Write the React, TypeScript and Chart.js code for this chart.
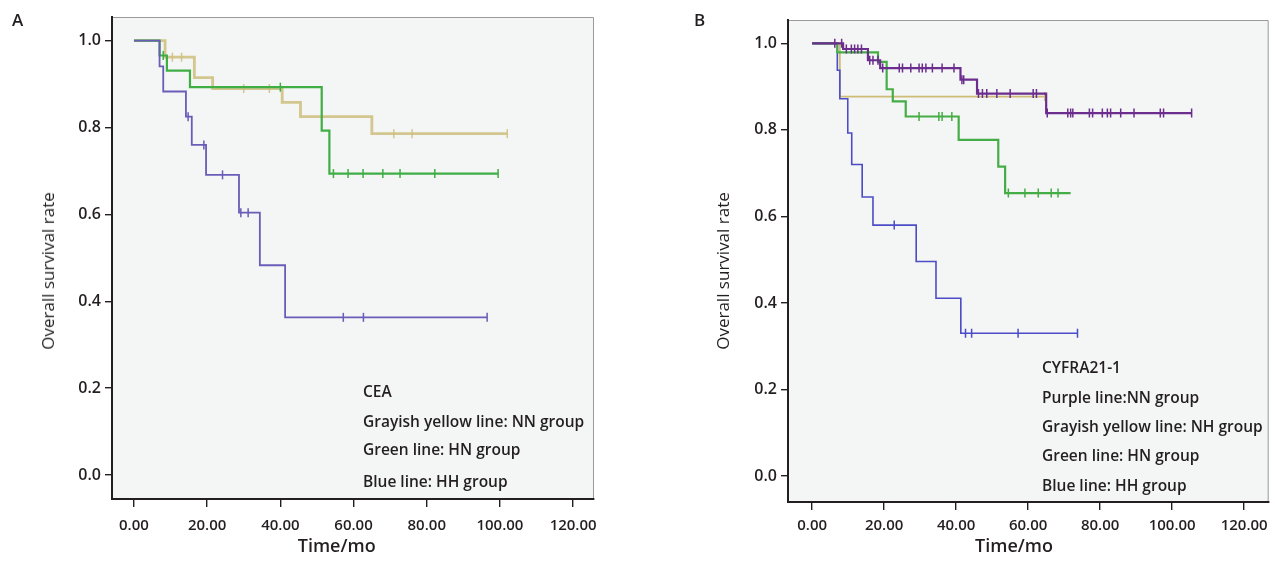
import React, { useEffect, useRef } from "react";
import { Chart, registerables } from "chart.js";

Chart.register(...registerables);

// ---------------- data ----------------
const X_TICKS = [0, 20, 40, 60, 80, 100, 120];
const Y_TICKS = [0, 0.2, 0.4, 0.6, 0.8, 1.0];

// Panel A — CEA
const A_NN_TIMES = [0, 8.5, 16.5, 21.5, 40.5, 45.5, 65];
const A_NN_SURV = [1, 0.962, 0.915, 0.89, 0.858, 0.825, 0.786];
const A_NN_END = 102;
const A_NN_CENSOR = [10.5, 13, 30, 37, 71, 76, 102];

const A_HN_TIMES = [0, 7, 9, 15.3, 51.3, 53.4];
const A_HN_SURV = [1, 0.966, 0.931, 0.893, 0.793, 0.694];
const A_HN_END = 99.5;
const A_HN_CENSOR = [8, 40, 54.5, 58.5, 62.6, 68, 72.7, 82.2, 99.5];

const A_HH_TIMES = [0, 7, 8, 14.2, 15.8, 19.7, 28.7, 34.4, 41.3];
const A_HH_SURV = [1, 0.941, 0.883, 0.825, 0.76, 0.691, 0.604, 0.483, 0.363];
const A_HH_END = 96.5;
const A_HH_CENSOR = [14.8, 19.1, 24.2, 29.2, 31.2, 57.2, 62.7, 96.5];

// Panel B — CYFRA21-1
const B_NN_TIMES = [0, 8.6, 15.5, 18.9, 41.2, 45.8, 65];
const B_NN_SURV = [1, 0.987, 0.961, 0.943, 0.916, 0.884, 0.839];
const B_NN_END = 105.4;
const B_NN_CENSOR = [
  6.3, 8.2, 9.5, 10.9, 11.8, 12.7, 13.7, 16, 16.9, 18.3, 19.6, 24.2, 25.1, 27.4,
  29.7, 30.6, 31.6, 33.4, 36.1, 39.4, 41.6, 42.1, 46.2, 47.3, 48.5, 51.3, 55,
  61.4, 62.3, 65.3, 71, 71.8, 72.4, 77, 77.9, 80.6, 82, 82.9, 85.7, 89.4, 96.7,
  97.6, 105.4,
];

const B_NH_TIMES = [0, 7.7];
const B_NH_SURV = [1, 0.877];
const B_NH_END = 64.6;
const B_NH_CENSOR = [64.6];

const B_HN_TIMES = [0, 7, 18.3, 20.7, 22.4, 26, 40.7, 51.7, 53.6];
const B_HN_SURV = [1, 0.979, 0.957, 0.894, 0.866, 0.831, 0.777, 0.715, 0.654];
const B_HN_END = 71.8;
const B_HN_CENSOR = [29.7, 35.2, 36.1, 38.8, 54.5, 59.1, 62.8, 66.4, 68.3];

const B_HH_TIMES = [0, 7, 7.7, 9.9, 11, 13.9, 16.9, 28.9, 34.4, 41.3];
const B_HH_SURV = [1, 0.938, 0.872, 0.793, 0.72, 0.645, 0.58, 0.496, 0.411, 0.33];
const B_HH_END = 73.7;
const B_HH_CENSOR = [22.8, 42.6, 44.3, 57.2, 73.7];

// ---------------- styling ----------------
const FONT = "'Open Sans', 'Noto Sans', 'DejaVu Sans', sans-serif";
const INK = "#231f20";

type Series = {
  label: string;
  times: number[];
  surv: number[];
  end: number;
  censor: number[];
  color: string;
  width: number;
};

const SERIES_A: Series[] = [
  { label: "HH", times: A_HH_TIMES, surv: A_HH_SURV, end: A_HH_END, censor: A_HH_CENSOR, color: "#6a5cb8", width: 1.8 },
  { label: "HN", times: A_HN_TIMES, surv: A_HN_SURV, end: A_HN_END, censor: A_HN_CENSOR, color: "#3fae45", width: 2.2 },
  { label: "NN", times: A_NN_TIMES, surv: A_NN_SURV, end: A_NN_END, censor: A_NN_CENSOR, color: "rgba(205,190,125,0.85)", width: 2.8 },
];

const SERIES_B: Series[] = [
  { label: "NN", times: B_NN_TIMES, surv: B_NN_SURV, end: B_NN_END, censor: B_NN_CENSOR, color: "#6b2d8e", width: 2.2 },
  { label: "HN", times: B_HN_TIMES, surv: B_HN_SURV, end: B_HN_END, censor: B_HN_CENSOR, color: "#45ad45", width: 2.2 },
  { label: "HH", times: B_HH_TIMES, surv: B_HH_SURV, end: B_HH_END, censor: B_HH_CENSOR, color: "#4c4cc8", width: 1.6 },
  { label: "NH", times: B_NH_TIMES, surv: B_NH_SURV, end: B_NH_END, censor: B_NH_CENSOR, color: "#cdbd76", width: 1.8 },
];

type Panel = {
  left: number;
  width: number;
  height: number;
  area: { left: number; top: number; right: number; bottom: number };
  xMin: number;
  xMax: number;
  yMin: number;
  yMax: number;
  xTickPad: number;
};

const PANEL_A: Panel = {
  left: 0, width: 650, height: 563,
  area: { left: 112, top: 17, right: 594, bottom: 499 },
  xMin: -6, xMax: 125.7, yMin: -0.0553, yMax: 1.0546, xTickPad: 10,
};
const PANEL_B: Panel = {
  left: 660, width: 615, height: 563,
  area: { left: 128, top: 20, right: 613, bottom: 502 },
  xMin: -6.7, xMax: 126.8, yMin: -0.06, yMax: 1.054, xTickPad: 7,
};

function survivalAt(times: number[], surv: number[], t: number) {
  let s = surv[0];
  for (let i = 0; i < times.length; i++) if (times[i] <= t) s = surv[i];
  return s;
}

function buildDatasets(series: Series[]) {
  const ds: any[] = [];
  series.forEach((s) => {
    ds.push({
      label: s.label + " censored",
      data: s.censor.map((t) => ({ x: t, y: survivalAt(s.times, s.surv, t) })),
      showLine: false,
      pointStyle: "line",
      pointRotation: 90,
      pointRadius: 4.5,
      pointBorderWidth: 1.5,
      borderColor: s.color,
      backgroundColor: s.color,
    });
    ds.push({
      label: s.label,
      data: [
        ...s.times.map((t, i) => ({ x: t, y: s.surv[i] })),
        { x: s.end, y: s.surv[s.surv.length - 1] },
      ],
      showLine: true,
      stepped: "before",
      pointRadius: 0,
      borderColor: s.color,
      borderWidth: s.width,
      fill: false,
    });
  });
  return ds;
}

function makeChart(canvas: HTMLCanvasElement, p: Panel, series: Series[]) {
  const areaPlugin = {
    id: "plotArea",
    beforeDraw(chart: any) {
      const { ctx, chartArea: a } = chart;
      ctx.save();
      ctx.fillStyle = "#f4f5f5";
      ctx.fillRect(a.left, a.top, a.right - a.left, a.bottom - a.top);
      ctx.strokeStyle = "#9a9a9a";
      ctx.lineWidth = 1;
      ctx.beginPath();
      ctx.moveTo(a.left, a.top + 0.5);
      ctx.lineTo(a.right - 0.5, a.top + 0.5);
      ctx.lineTo(a.right - 0.5, a.bottom);
      ctx.stroke();
      ctx.restore();
    },
  };
  return new Chart(canvas, {
    type: "scatter",
    data: { datasets: buildDatasets(series) },
    options: {
      animation: false,
      responsive: false,
      maintainAspectRatio: false,
      events: [],
      layout: { padding: { left: 0, top: p.area.top, right: p.width - p.area.right, bottom: 0 } },
      plugins: { legend: { display: false }, tooltip: { enabled: false }, title: { display: false } },
      scales: {
        x: {
          type: "linear",
          min: p.xMin,
          max: p.xMax,
          afterBuildTicks: (scale: any) => {
            scale.ticks = X_TICKS.map((v) => ({ value: v }));
          },
          afterFit: (scale: any) => {
            scale.height = p.height - p.area.bottom;
          },
          ticks: {
            callback: (v: any) => Number(v).toFixed(2),
            font: { family: FONT, size: 15, weight: "600" },
            color: INK,
            padding: p.xTickPad,
            maxRotation: 0,
            autoSkip: false,
          },
          grid: { drawOnChartArea: false, drawTicks: true, tickLength: 8, color: INK, lineWidth: 1.4 },
          border: { display: true, color: INK, width: 2 },
        },
        y: {
          type: "linear",
          min: p.yMin,
          max: p.yMax,
          afterBuildTicks: (scale: any) => {
            scale.ticks = Y_TICKS.map((v) => ({ value: v }));
          },
          afterFit: (scale: any) => {
            scale.width = p.area.left;
          },
          ticks: {
            callback: (v: any) => Number(v).toFixed(1),
            font: { family: FONT, size: 16, weight: "600" },
            color: INK,
            padding: 4,
            autoSkip: false,
          },
          grid: { drawOnChartArea: false, drawTicks: true, tickLength: 7, color: INK, lineWidth: 1.4 },
          border: { display: true, color: INK, width: 2 },
        },
      },
    } as any,
    plugins: [areaPlugin],
  });
}

const LEGEND_A = ["CEA", "Grayish yellow line: NN group", "Green line: HN group", "Blue line: HH group"];
const LEGEND_B = ["CYFRA21-1", "Purple line:NN group", "Grayish yellow line: NH group", "Green line: HN group", "Blue line: HH group"];

const baseText: React.CSSProperties = {
  position: "absolute",
  fontFamily: FONT,
  color: INK,
  whiteSpace: "nowrap",
  lineHeight: "20px",
};

export default function App() {
  const refA = useRef<HTMLCanvasElement>(null);
  const refB = useRef<HTMLCanvasElement>(null);

  useEffect(() => {
    const ca = makeChart(refA.current!, PANEL_A, SERIES_A);
    const cb = makeChart(refB.current!, PANEL_B, SERIES_B);
    return () => {
      ca.destroy();
      cb.destroy();
    };
  }, []);

  const legendA = [391, 420.7, 449, 481];
  const legendB = [366.7, 396.7, 426, 455, 485];

  return (
    <div style={{ position: "absolute", left: 0, top: 0, width: 1275, height: 563, background: "#fff", overflow: "hidden" }}>
      <canvas ref={refA} width={PANEL_A.width} height={PANEL_A.height}
        style={{ position: "absolute", left: PANEL_A.left, top: 0 }} />
      <canvas ref={refB} width={PANEL_B.width} height={PANEL_B.height}
        style={{ position: "absolute", left: PANEL_B.left, top: 0 }} />

      <div style={{ ...baseText, left: 12, top: 10, fontSize: 17, fontWeight: 600 }}>A</div>
      <div style={{ ...baseText, left: 694, top: 10, fontSize: 17, fontWeight: 600 }}>B</div>

      {[48, 723].map((cx, i) => (
        <div key={"yt" + i} style={{ ...baseText, left: cx, top: 270.5, fontSize: 17, fontWeight: 400,
          transform: "translate(-50%, -50%) rotate(-90deg)" }}>Overall survival rate</div>
      ))}
      {[336.7, 1014].map((cx, i) => (
        <div key={"xt" + i} style={{ ...baseText, left: cx, top: 545, fontSize: 18, fontWeight: 600,
          transform: "translate(-50%, -50%)" }}>Time/mo</div>
      ))}

      {LEGEND_A.map((t, i) => (
        <div key={"la" + i} style={{ ...baseText, left: 363, top: legendA[i] - 10, fontSize: 15.5, fontWeight: 600 }}>{t}</div>
      ))}
      {LEGEND_B.map((t, i) => (
        <div key={"lb" + i} style={{ ...baseText, left: 1042, top: legendB[i] - 10, fontSize: 15.5, fontWeight: 600 }}>{t}</div>
      ))}
    </div>
  );
}
